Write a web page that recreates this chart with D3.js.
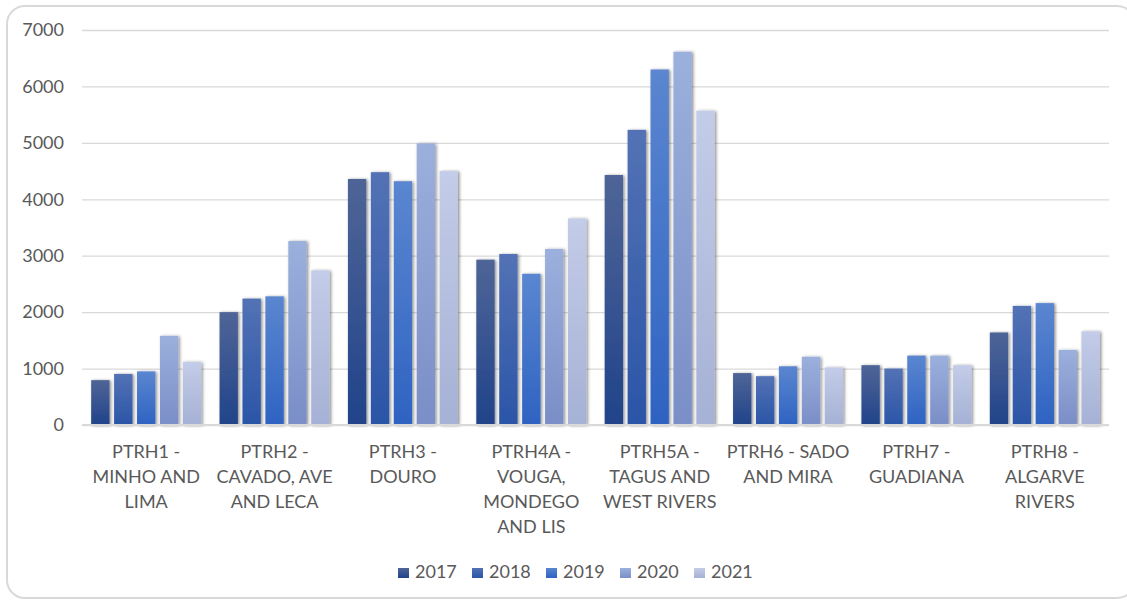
<!DOCTYPE html>
<html>
<head>
<meta charset="utf-8">
<script src="https://cdn.jsdelivr.net/npm/d3@7"></script>
<style>
	body { margin: 0; background: #fff; }
	svg text { font-family: Lato, "Open Sans", sans-serif; fill: #595959; }
</style>
</head>
<body>
<div id="chart"></div>
<script>
// categories (line breaks as in the original axis labels)
var categories = [
	"PTRH1 -\nMINHO AND\nLIMA",
	"PTRH2 -\nCAVADO, AVE\nAND LECA",
	"PTRH3 -\nDOURO",
	"PTRH4A -\nVOUGA,\nMONDEGO\nAND LIS",
	"PTRH5A -\nTAGUS AND\nWEST RIVERS",
	"PTRH6 - SADO\nAND MIRA",
	"PTRH7 -\nGUADIANA",
	"PTRH8 -\nALGARVE\nRIVERS"
];
var years = ["2017", "2018", "2019", "2020", "2021"];

var values2017 = [795, 2000, 4360, 2930, 4430, 920, 1060, 1640];
var values2018 = [905, 2240, 4480, 3030, 5230, 865, 1000, 2110];
var values2019 = [950, 2280, 4320, 2680, 6300, 1040, 1230, 2160];
var values2020 = [1580, 3260, 4990, 3120, 6615, 1210, 1230, 1330];
var values2021 = [1120, 2740, 4500, 3660, 5570, 1020, 1060, 1660];

var yTicks = [0, 1000, 2000, 3000, 4000, 5000, 6000, 7000];

var series = [values2017, values2018, values2019, values2020, values2021];

// top / bottom gradient colours for each year
var gradTop = ["#4f6597", "#5372b5", "#5b86d0", "#9cb0dd", "#c3cce8"];
var gradBottom = ["#20438a", "#2b55a7", "#2e63c2", "#7a8ec7", "#a5b1d5"];

var width = 1127, height = 600;
var plot = {left: 82, right: 1109, top: 30, bottom: 425};

var svg = d3.select("#chart").append("svg")
	.attr("width", width)
	.attr("height", height);

var defs = svg.append("defs");
years.forEach(function(y, i){
	var g = defs.append("linearGradient")
		.attr("id", "grad" + y)
		.attr("x1", 0).attr("y1", 0).attr("x2", 0).attr("y2", 1);
	g.append("stop").attr("offset", "0%").attr("stop-color", gradTop[i]);
	g.append("stop").attr("offset", "100%").attr("stop-color", gradBottom[i]);
});
var shadow = defs.append("filter")
	.attr("id", "barShadow")
	.attr("x", "-30%").attr("y", "-5%").attr("width", "160%").attr("height", "110%");
shadow.append("feDropShadow")
	.attr("dx", 1.5).attr("dy", 0.5)
	.attr("stdDeviation", 1.6)
	.attr("flood-color", "#000")
	.attr("flood-opacity", 0.45);

// outer frame
svg.append("rect")
	.attr("x", 7).attr("y", 6)
	.attr("width", 1128).attr("height", 592)
	.attr("rx", 18).attr("ry", 18)
	.attr("fill", "#fff")
	.attr("stroke", "#d9d9d9")
	.attr("stroke-width", 2);

var x0 = d3.scaleBand()
	.domain(categories)
	.range([plot.left, plot.right])
	.paddingInner(0.143)
	.paddingOuter(0.0715);

var x1 = d3.scaleBand()
	.domain(years)
	.range([0, x0.bandwidth()])
	.paddingInner(0.2);

var y = d3.scaleLinear()
	.domain([0, 7000])
	.range([plot.bottom, plot.top]);

// gridlines + y labels
var yAxis = svg.append("g")
	.attr("transform", "translate(" + plot.left + ",0)")
	.call(d3.axisLeft(y)
		.tickValues(yTicks)
		.tickFormat(d3.format("d"))
		.tickSize(-(plot.right - plot.left))
		.tickPadding(18));
yAxis.select(".domain").remove();
yAxis.selectAll(".tick line").attr("stroke", "#d9d9d9").attr("stroke-width", 1.3);
yAxis.selectAll(".tick text")
	.attr("font-size", 18)
	.style("font-family", "Lato, sans-serif")
	.attr("fill", "#595959");

// bars
var groups = svg.append("g").selectAll("g")
	.data(categories)
	.enter().append("g")
	.attr("transform", function(d){ return "translate(" + x0(d) + ",0)"; });

groups.selectAll("rect")
	.data(function(d, ci){
		return years.map(function(yr, yi){ return {year: yr, value: series[yi][ci]}; });
	})
	.enter().append("rect")
	.attr("x", function(d){ return x1(d.year); })
	.attr("y", function(d){ return y(d.value); })
	.attr("width", x1.bandwidth())
	.attr("height", function(d){ return y(0) - y(d.value); })
	.attr("fill", function(d){ return "url(#grad" + d.year + ")"; })
	.attr("filter", "url(#barShadow)");

// baseline
svg.append("line")
	.attr("x1", plot.left).attr("x2", plot.right)
	.attr("y1", y(0)).attr("y2", y(0))
	.attr("stroke", "#d9d9d9")
	.attr("stroke-width", 2);

// category labels
var xAxis = svg.append("g");
categories.forEach(function(c){
	var t = xAxis.append("text")
		.attr("x", x0(c) + x0.bandwidth() / 2)
		.attr("y", 458)
		.attr("text-anchor", "middle")
		.attr("font-size", 18);
	c.split("\n").forEach(function(line, i){
		t.append("tspan")
			.attr("x", x0(c) + x0.bandwidth() / 2)
			.attr("dy", i == 0 ? 0 : 25)
			.text(line);
	});
});

// legend
var legendStep = 74;
var legendX = 398;
var legend = svg.append("g").selectAll("g")
	.data(years)
	.enter().append("g")
	.attr("transform", function(d, i){ return "translate(" + (legendX + i * legendStep) + ",0)"; });
legend.append("rect")
	.attr("x", 0).attr("y", 568)
	.attr("width", 11).attr("height", 10)
	.attr("fill", function(d){ return "url(#grad" + d + ")"; });
legend.append("text")
	.attr("x", 17).attr("y", 578)
	.attr("font-size", 18)
	.text(function(d){ return d; });
</script>
</body>
</html>
